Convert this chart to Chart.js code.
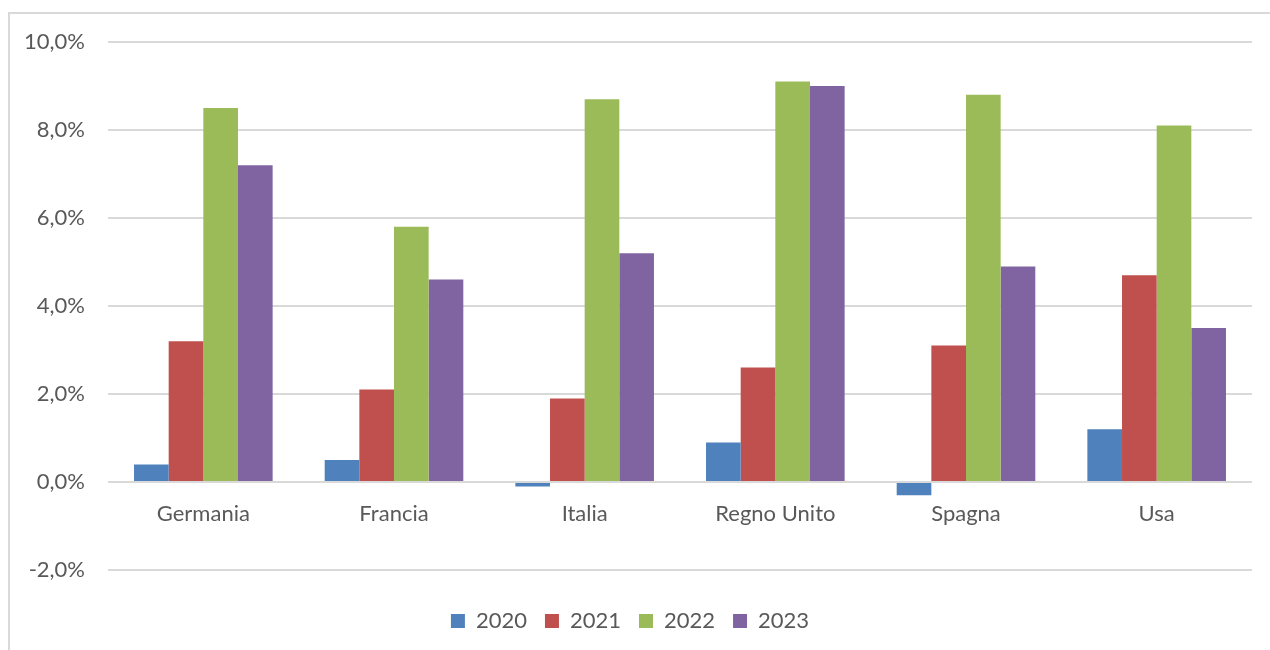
<!DOCTYPE html>
<html>
<head>
<meta charset="utf-8">
<script src="https://cdn.jsdelivr.net/npm/chart.js@4.4.0/dist/chart.umd.min.js"></script>
<style>
  html, body { margin: 0; padding: 0; background: #fff; }
  #wrap { width: 1270px; height: 650px; }
</style>
</head>
<body>
<div id="wrap"><canvas id="chart" width="1270" height="650"></canvas></div>
<script>
// data
const countries = ['Germania', 'Francia', 'Italia', 'Regno Unito', 'Spagna', 'Usa'];
const years = ['2020', '2021', '2022', '2023'];
const v2020 = [0.4, 0.5, -0.1, 0.9, -0.3, 1.2];
const v2021 = [3.2, 2.1, 1.9, 2.6, 3.1, 4.7];
const v2022 = [8.5, 5.8, 8.7, 9.1, 8.8, 8.1];
const v2023 = [7.2, 4.6, 5.2, 9.0, 4.9, 3.5];
const yTicks = [-2, 0, 2, 4, 6, 8, 10];

const colors = ['#4F81BD', '#C0504D', '#9BBB59', '#8064A2'];
const series = [v2020, v2021, v2022, v2023];
const textColor = '#595959';
const gridColor = '#d9d9d9';

// grey frame of the excel chart object (cut off at right/bottom)
const framePlugin = {
  id: 'frame',
  beforeDraw(chart) {
    const ctx = chart.ctx;
    ctx.save();
    ctx.fillStyle = '#fff';
    ctx.fillRect(0, 0, chart.width, chart.height);
    ctx.fillStyle = gridColor;
    ctx.fillRect(8, 12, 2, chart.height - 12);
    ctx.fillRect(8, 12, chart.width - 8, 2);
    ctx.restore();
  }
};

const fmt = v => v.toFixed(1).replace('.', ',') + '%';

new Chart(document.getElementById('chart'), {
  type: 'bar',
  data: {
    labels: countries,
    datasets: years.map((y, i) => ({
      label: y,
      data: series[i],
      backgroundColor: colors[i],
      borderWidth: 0,
      categoryPercentage: 0.727,
      barPercentage: 1.0
    }))
  },
  options: {
    responsive: false,
    animation: false,
    devicePixelRatio: 1,
    layout: { padding: { left: 8, right: 18, top: 42, bottom: 8 } },
    plugins: {
      tooltip: { enabled: false },
      legend: {
        position: 'bottom',
        labels: {
          color: textColor,
          font: { family: 'Lato', size: 22 },
          boxWidth: 14,
          boxHeight: 14,
          padding: 18
        }
      }
    },
    scales: {
      y: {
        min: -2,
        max: 10,
        afterBuildTicks(scale) {
          scale.ticks = yTicks.map(v => ({ value: v }));
        },
        afterFit(scale) { scale.width = 100; },
        grid: { color: gridColor, lineWidth: 2, drawTicks: false },
        border: { display: false },
        ticks: {
          color: textColor,
          font: { family: 'Lato', size: 22 },
          padding: 23,
          callback: v => fmt(v)
        }
      },
      x: {
        position: { y: 0 },
        afterFit(scale) { scale.height = 0; },
        grid: { display: false, drawTicks: false },
        border: { display: false },
        ticks: {
          color: textColor,
          font: { family: 'Lato', size: 22 },
          padding: 19,
          maxRotation: 0
        }
      },
      // empty bottom axis, only keeps room between plot and legend
      xgap: {
        type: 'category',
        position: 'bottom',
        labels: countries,
        afterFit(scale) { scale.height = 22; },
        grid: { display: false, drawTicks: false },
        border: { display: false },
        ticks: { display: false }
      }
    }
  },
  plugins: [framePlugin]
});
</script>
</body>
</html>
